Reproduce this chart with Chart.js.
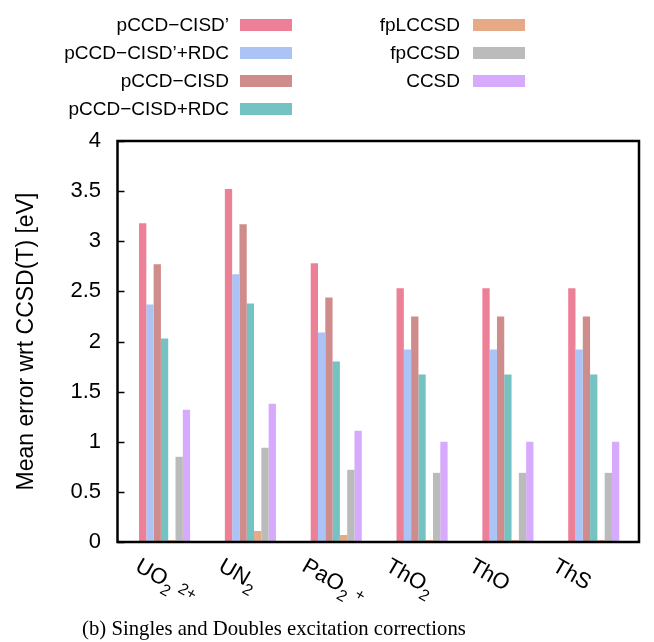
<!DOCTYPE html>
<html><head><meta charset="utf-8">
<script src="https://cdn.jsdelivr.net/npm/chart.js@4.4.1/dist/chart.umd.min.js"></script>
<style>html,body{margin:0;padding:0;background:#fff;}#wrap{position:relative;width:654px;height:642px;}</style>
</head><body><div id="wrap"><canvas id="c" width="654" height="642"></canvas></div>
<script>
// ---- data ----
const categories = ['UO_{2} ^{2+}', 'UN_{2}', 'PaO_{2} ^{+}', 'ThO_{2}', 'ThO', 'ThS'];
const seriesNames = ['pCCD\u2212CISD\u2019', 'pCCD\u2212CISD\u2019+RDC', 'pCCD\u2212CISD', 'pCCD\u2212CISD+RDC', 'fpLCCSD', 'fpCCSD', 'CCSD'];
const pCCD_CISDp     = [3.18, 3.52, 2.78, 2.53, 2.53, 2.53];
const pCCD_CISDp_RDC = [2.37, 2.67, 2.09, 1.92, 1.92, 1.92];
const pCCD_CISD      = [2.77, 3.17, 2.44, 2.25, 2.25, 2.25];
const pCCD_CISD_RDC  = [2.03, 2.38, 1.80, 1.67, 1.67, 1.67];
const fpLCCSD        = [0.02, 0.11, 0.07, 0.02, 0.02, 0.02];
const fpCCSD         = [0.85, 0.94, 0.72, 0.69, 0.69, 0.69];
const CCSD           = [1.32, 1.38, 1.11, 1.00, 1.00, 1.00];
const yMin = 0, yMax = 4, yStep = 0.5;
const yTitle = 'Mean error wrt CCSD(T) [eV]';
const caption = '(b) Singles and Doubles excitation corrections';

const seriesValues = [pCCD_CISDp, pCCD_CISDp_RDC, pCCD_CISD, pCCD_CISD_RDC, fpLCCSD, fpCCSD, CCSD];
const colors = ['#eb8096', '#abc4f5', '#cf8c8c', '#74c2c2', '#e6ab86', '#bbbbbb', '#d6aafc'];

const SANS = "'Liberation Sans', Arial, sans-serif";
Chart.defaults.font.family = SANS;
Chart.defaults.color = '#000';

function parseRich(s){
  const out=[]; const re=/([_^])\{([^}]*)\}|([^_^]+)/g; let m;
  while((m=re.exec(s))){ if(m[3]) out.push({t:m[3],k:'n'}); else out.push({t:m[2],k:m[1]==='_'?'sub':'sup'}); }
  return out;
}

const decorPlugin = {
  id:'decor',
  afterDatasetsDraw(chart){
    const {ctx, chartArea:a, scales:{x, y}} = chart;
    ctx.save();
    const L = a.left - 0.5, R = a.right + 6;
    // inward y ticks
    ctx.strokeStyle = '#000'; ctx.lineWidth = 1.5;
    y.ticks.forEach(t=>{
      const py = Math.round(y.getPixelForValue(t.value)) + 0.5;
      ctx.beginPath(); ctx.moveTo(L, py); ctx.lineTo(L + 7, py); ctx.stroke();
    });
    // frame
    ctx.lineWidth = 2.5;
    ctx.strokeRect(L, a.top, R - L, a.bottom - a.top);
    // x labels, rotated 30deg clockwise
    ctx.fillStyle = '#000';
    ctx.textBaseline = 'alphabetic'; ctx.textAlign = 'left';
    categories.forEach((lab, i)=>{
      const cx = x.getPixelForValue(i);
      const sx = 0.972 * cx - 22.5, sy = a.bottom + 28;
      ctx.save();
      ctx.translate(sx, sy); ctx.rotate(Math.PI/6);
      let px = 0;
      parseRich(lab).forEach(seg=>{
        const size = seg.k === 'n' ? 22 : 16;
        const dy = seg.k === 'sub' ? 7 : (seg.k === 'sup' ? -3 : 0);
        ctx.font = size + 'px ' + SANS;
        ctx.fillText(seg.t, px, dy);
        px += ctx.measureText(seg.t).width;
      });
      ctx.restore();
    });
    // legend
    const cols = [[0,1,2,3],[4,5,6]];
    const textRight = [229, 460], swX = [240, 473], swW = 52, swH = 12;
    const rowY = [25, 53, 81, 109];
    ctx.font = '19px ' + SANS; ctx.textAlign = 'right'; ctx.textBaseline = 'middle';
    cols.forEach((col, ci)=>{
      col.forEach((si, ri)=>{
        ctx.fillStyle = '#000';
        ctx.fillText(seriesNames[si], textRight[ci], rowY[ri] + 1);
        ctx.fillStyle = colors[si];
        ctx.fillRect(swX[ci], rowY[ri] - swH/2, swW, swH);
      });
    });
    // caption
    ctx.fillStyle = '#000'; ctx.textAlign = 'center'; ctx.textBaseline = 'alphabetic';
    let fs = 20;
    ctx.font = fs + "px 'Liberation Serif', 'DejaVu Serif', serif";
    const w = ctx.measureText(caption).width;
    fs = fs * 384 / w;
    ctx.font = fs + "px 'Liberation Serif', 'DejaVu Serif', serif";
    ctx.fillText(caption, 274, 635);
    ctx.restore();
  }
};

const datasets = [{label:'', data: categories.map(()=>null), backgroundColor:'rgba(0,0,0,0)', borderWidth:0}]
  .concat(seriesValues.map((d, i)=>({label: seriesNames[i], data: d, backgroundColor: colors[i], borderWidth: 0})));

new Chart(document.getElementById('c'), {
  type: 'bar',
  data: { labels: categories, datasets },
  options: {
    responsive: false, animation: false, devicePixelRatio: 1,
    layout: { padding: { top: 141, right: 21, left: 0, bottom: 0 } },
    datasets: { bar: { categoryPercentage: 0.68, barPercentage: 1.0 } },
    plugins: { legend: { display: false }, tooltip: { enabled: false } },
    scales: {
      x: {
        ticks: { display: false }, grid: { display: false, drawTicks: false }, border: { display: false },
        afterFit(s){ s.height = 100; }
      },
      y: {
        min: yMin, max: yMax,
        ticks: { stepSize: yStep, font: { size: 22 }, color: '#000', padding: 17,
                 callback: v => String(Math.round(v * 10) / 10) },
        grid: { display: false, drawTicks: false }, border: { display: false },
        title: { display: true, text: yTitle, font: { size: 23 }, color: '#000', padding: { top: 13, bottom: 0 } },
        afterFit(s){ s.width = 118; }
      }
    }
  },
  plugins: [decorPlugin]
});
</script></body></html>
